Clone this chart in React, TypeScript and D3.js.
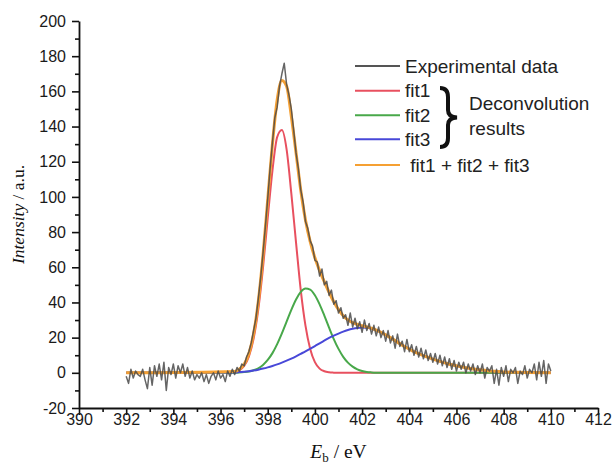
import React, { useEffect, useRef } from "react";
import * as d3 from "d3";

// axis ticks
const xTicks = [390, 392, 394, 396, 398, 400, 402, 404, 406, 408, 410, 412];
const xMinor = [391, 393, 395, 397, 399, 401, 403, 405, 407, 409, 411];
const yTicks = [-20, 0, 20, 40, 60, 80, 100, 120, 140, 160, 180, 200];
const yMinor = [-10, 10, 30, 50, 70, 90, 110, 130, 150, 170, 190];

// experimental spectrum, 392.0 .. 410.0 eV every 0.1 eV
const expStart = 392.0;
const expStep = 0.1;
const expValues = [
  -2, -6, 2, -3, 1, -1, -2, 2, -4, -9,
  3, -7, 4, -2, 5, -4, 6, -10, 3, -1,
  5, -3, 4, 0, 5, -2, 3, -3, 1, -4,
  -1, -3, 0, -5, -1, -6, -2, 0, -4, 1,
  -3, -1, -5, 1, -2, 2, -1, 3, 1, 5,
  4, 9, 12, 17, 24, 31, 42, 54, 68, 83,
  99, 116, 131, 145, 151, 163, 170, 176, 164, 158,
  150, 138, 125, 116, 104, 97, 86, 82, 75, 72,
  64, 63, 55, 59, 50, 52, 44, 47, 39, 41,
  34, 37, 31, 33, 27, 34, 26, 31, 25, 29,
  23, 30, 24, 28, 22, 27, 21, 26, 20, 24,
  18, 24, 17, 21, 14, 22, 15, 18, 12, 19,
  12, 16, 10, 15, 9, 14, 8, 13, 7, 11,
  6, 11, 5, 10, 4, 9, 3, 8, 2, 7,
  1, 6, 2, 6, 0, 5, 1, 5, -1, 4,
  0, 5, -3, 3, 1, 4, -6, 2, -7, 3,
  -2, 4, -5, 2, 0, 3, -6, 1, -1, 4,
  -3, 2, 0, 5, -4, 6, -2, 7, -6, 5,
  1,
];

// deconvolution components, 396.6 .. 408.0 eV every 0.2 eV (zero outside)
const fitStart = 396.6;
const fitStep = 0.2;
const fitRange = [392, 410];
const fit1 = [
  0.5, 1.5, 3.9, 9.2, 19.3, 36, 59.8, 88, 115, 134,
  138, 127, 102, 74, 47, 26.8, 13.6, 6.1, 2.4, 0.9,
  0.3, 0.1, 0, 0, 0, 0, 0, 0, 0, 0,
  0, 0, 0, 0, 0, 0, 0, 0, 0, 0,
  0, 0, 0, 0, 0, 0, 0, 0, 0, 0,
  0, 0, 0, 0, 0, 0, 0, 0,
];
const fit2 = [
  0.1, 0.2, 0.4, 0.75, 1.45, 2.6, 4.5, 7.3, 11.2, 16.3,
  22.4, 29.1, 35.8, 41.7, 46, 47.9, 47.3, 44.1, 38.9, 32.5,
  25.7, 19.2, 13.6, 9.1, 5.8, 3.5, 2.0, 1.05, 0.5, 0.25,
  0.1, 0.05, 0, 0, 0, 0, 0, 0, 0, 0,
  0, 0, 0, 0, 0, 0, 0, 0, 0, 0,
  0, 0, 0, 0, 0, 0, 0, 0,
];
const fit3 = [
  0.2, 0.4, 0.6, 0.9, 1.3, 1.8, 2.4, 3.1, 3.9, 4.8,
  5.8, 6.9, 8.1, 9.4, 10.8, 12.2, 13.7, 15.2, 16.8, 18.3,
  19.8, 21.1, 22.3, 23.4, 24.3, 25.0, 25.5, 25.7, 25.6, 25.1,
  24.2, 23.0, 21.6, 20.0, 18.3, 16.6, 15.0, 13.5, 12.1, 10.9,
  9.8, 8.8, 7.8, 6.9, 6.1, 5.3, 4.6, 4.0, 3.4, 2.9,
  2.4, 2.0, 1.7, 1.4, 1.1, 0.9, 0.7, 0.5,
];

const legendItems = [
  { label: "Experimental data", color: "#555555" },
  { label: "fit1", color: "#e8505f" },
  { label: "fit2", color: "#48a84a" },
  { label: "fit3", color: "#4848d8" },
  { label: " fit1 + fit2 + fit3", color: "#f5a033" },
];

export default function App() {
  const svgRef = useRef<SVGSVGElement>(null);

  useEffect(() => {
    const w = 613;
    const h = 466;
    const svg = d3.select(svgRef.current);
    svg.selectAll("*").remove();
    svg.attr("width", w).attr("height", h);

    const x = d3.scaleLinear().domain([390, 412]).range([79, 598]);
    const y = d3.scaleLinear().domain([-20, 200]).range([408, 21]);

    const sans = "'Liberation Sans', Arial, sans-serif";
    const serif = "'Liberation Serif', 'Times New Roman', serif";

    // series
    const expPts: [number, number][] = expValues.map((v, i) => [expStart + i * expStep, v]);
    const withEnds = (vals: number[]): [number, number][] => [
      [fitRange[0], 0],
      ...vals.map((v, i) => [fitStart + i * fitStep, v] as [number, number]),
      [fitRange[1], 0],
    ];
    const sum = fit1.map((v, i) => v + fit2[i] + fit3[i]);

    const line = d3
      .line<[number, number]>()
      .x((d) => x(d[0]))
      .y((d) => y(d[1]));
    const smooth = d3
      .line<[number, number]>()
      .x((d) => x(d[0]))
      .y((d) => y(d[1]))
      .curve(d3.curveMonotoneX);

    const plot = svg.append("g");
    plot.append("path").attr("d", smooth(withEnds(fit1))).attr("fill", "none")
      .attr("stroke", legendItems[1].color).attr("stroke-width", 2);
    plot.append("path").attr("d", smooth(withEnds(fit2))).attr("fill", "none")
      .attr("stroke", legendItems[2].color).attr("stroke-width", 2);
    plot.append("path").attr("d", smooth(withEnds(fit3))).attr("fill", "none")
      .attr("stroke", legendItems[3].color).attr("stroke-width", 2);
    plot.append("path").attr("d", smooth(withEnds(sum))).attr("fill", "none")
      .attr("stroke", legendItems[4].color).attr("stroke-width", 3);
    plot.append("path").attr("d", line(expPts)).attr("fill", "none")
      .attr("stroke", "#4a4a4a").attr("stroke-width", 1.5).attr("opacity", 0.85)
      .attr("stroke-linejoin", "round");

    // axes
    const fmt = (d: d3.NumberValue) => String(d);
    const xAxis = d3.axisBottom(x).tickValues(xTicks).tickSize(7).tickSizeOuter(0).tickFormat(fmt);
    const xMinorAxis = d3.axisBottom(x).tickValues(xMinor).tickSize(4).tickFormat(() => "");
    const yAxis = d3.axisLeft(y).tickValues(yTicks).tickSize(7).tickSizeOuter(0)
      .tickPadding(6).tickFormat(fmt);
    const yMinorAxis = d3.axisLeft(y).tickValues(yMinor).tickSize(4).tickFormat(() => "");

    const gx = svg.append("g").attr("transform", `translate(0, ${y(-20)})`).call(xAxis);
    svg.append("g").attr("transform", `translate(0, ${y(-20)})`).call(xMinorAxis)
      .select(".domain").remove();
    const gy = svg.append("g").attr("transform", `translate(${x(390)}, 0)`).call(yAxis);
    svg.append("g").attr("transform", `translate(${x(390)}, 0)`).call(yMinorAxis)
      .select(".domain").remove();

    svg.selectAll(".domain").attr("stroke", "#111").attr("stroke-width", 1.8);
    svg.selectAll(".tick line").attr("stroke", "#111").attr("stroke-width", 1.6);
    gx.selectAll("text").attr("dy", null).attr("y", 16.5);
    [gx, gy].forEach((g) =>
      g.selectAll("text").attr("font-family", sans).attr("font-size", 16).attr("fill", "#1a1a1a")
    );

    // axis titles
    const xt = svg.append("text").attr("x", x(401)).attr("y", 458)
      .attr("text-anchor", "middle").attr("font-family", serif).attr("font-size", 19.5).attr("fill", "#111");
    xt.append("tspan").attr("font-style", "italic").text("E");
    xt.append("tspan").attr("font-size", 13).attr("dy", 4).text("b");
    xt.append("tspan").attr("dy", -4).text(" / eV");

    const yt = svg.append("text").attr("transform", `translate(24, ${y(90)}) rotate(-90)`)
      .attr("text-anchor", "middle").attr("font-family", serif).attr("font-size", 17.5).attr("fill", "#111");
    yt.append("tspan").attr("font-style", "italic").text("Intensity");
    yt.append("tspan").text(" / a.u.");

    // legend
    const lg = svg.append("g");
    const rowY = [66, 90.7, 115.3, 139.3, 165];
    legendItems.forEach((it, i) => {
      lg.append("line").attr("x1", 355).attr("x2", 400).attr("y1", rowY[i]).attr("y2", rowY[i])
        .attr("stroke", it.color).attr("stroke-width", 2);
      lg.append("text").attr("x", 405).attr("y", rowY[i] + 6.5).attr("font-family", sans)
        .attr("font-size", 19).attr("fill", "#222").attr("xml:space", "preserve")
        .style("white-space", "pre").text(it.label);
    });
    lg.append("path")
      .attr("d", "M440,88 Q448,88 448,97 L448,110 Q448,117 457,117.5 Q448,118 448,125 L448,138 Q448,147 440,147")
      .attr("fill", "none").attr("stroke", "#111").attr("stroke-width", 4);
    lg.append("text").attr("x", 469).attr("y", 110).attr("font-family", sans)
      .attr("font-size", 19).attr("fill", "#222").text("Deconvolution");
    lg.append("text").attr("x", 469).attr("y", 135).attr("font-family", sans)
      .attr("font-size", 19).attr("fill", "#222").text("results");
  }, []);

  return (
    <div>
      <svg ref={svgRef} style={{ position: "absolute", left: 0, top: 0, background: "#fff" }}></svg>
    </div>
  );
}
